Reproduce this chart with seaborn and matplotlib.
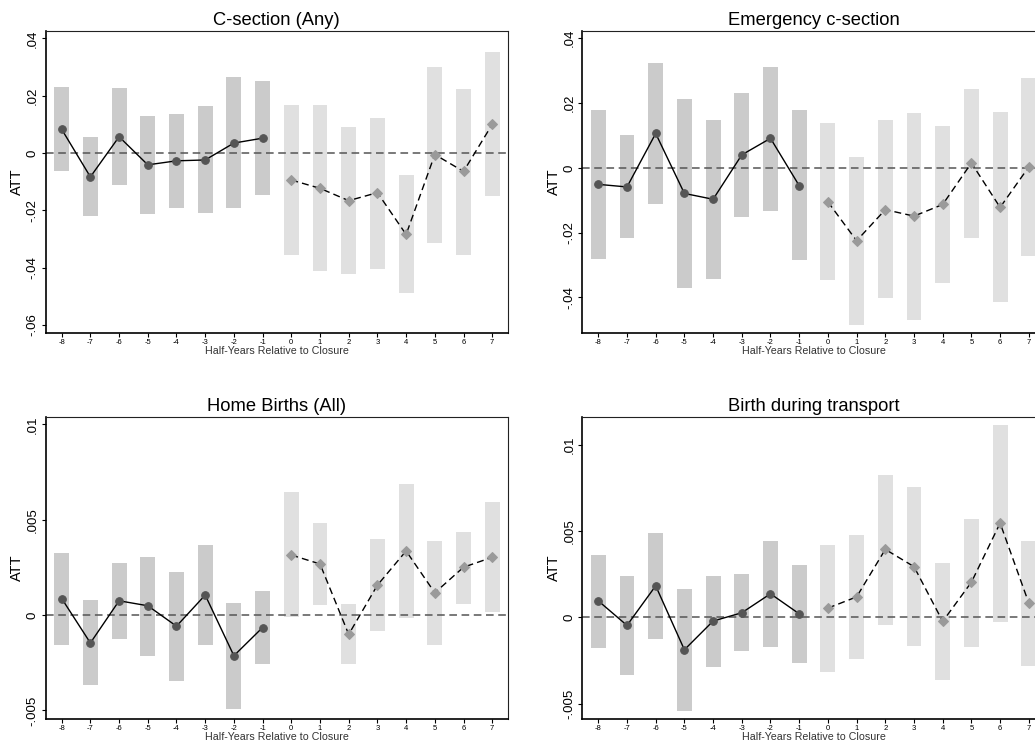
import numpy as np
import pandas as pd
import matplotlib
matplotlib.use("Agg")
import matplotlib.pyplot as plt
import seaborn as sns

sns.set_theme(style="white")
plt.rcParams['font.family'] = ['Liberation Sans', 'DejaVu Sans']
plt.rcParams['text.color'] = 'black'
plt.rcParams['axes.labelcolor'] = 'black'
plt.rcParams['xtick.color'] = 'black'
plt.rcParams['ytick.color'] = 'black'

periods = list(range(-8, 8))

titles = ["C-section (Any)", "Emergency c-section", "Home Births (All)", "Birth during transport"]

csec_att = [0.0083, -0.0083, 0.0057, -0.0041, -0.0027, -0.0024, 0.0035, 0.0052,
            -0.0094, -0.0123, -0.0166, -0.0138, -0.0284, -0.0005, -0.0064, 0.0100]
csec_hi = [0.0230, 0.0057, 0.0227, 0.0129, 0.0136, 0.0164, 0.0265, 0.0252,
           0.0167, 0.0167, 0.0091, 0.0122, -0.0077, 0.0300, 0.0223, 0.0352]
csec_lo = [-0.0063, -0.0220, -0.0112, -0.0213, -0.0192, -0.0209, -0.0192, -0.0147,
           -0.0356, -0.0412, -0.0422, -0.0405, -0.0488, -0.0314, -0.0356, -0.0150]

emer_att = [-0.0051, -0.0059, 0.0106, -0.0079, -0.0097, 0.0040, 0.0091, -0.0055,
            -0.0105, -0.0225, -0.0129, -0.0149, -0.0113, 0.0015, -0.0122, 0.0003]
emer_hi = [0.0178, 0.0101, 0.0323, 0.0212, 0.0147, 0.0230, 0.0311, 0.0178,
           0.0138, 0.0033, 0.0147, 0.0169, 0.0129, 0.0243, 0.0172, 0.0277]
emer_lo = [-0.0282, -0.0217, -0.0112, -0.0370, -0.0343, -0.0152, -0.0134, -0.0285,
           -0.0347, -0.0485, -0.0402, -0.0470, -0.0356, -0.0217, -0.0414, -0.0273]

home_att = [0.00087, -0.00146, 0.00075, 0.00049, -0.00058, 0.00105, -0.00213, -0.00065,
            0.00315, 0.00268, -0.00101, 0.00157, 0.00336, 0.00117, 0.00251, 0.00303]
home_hi = [0.00328, 0.00077, 0.00275, 0.00307, 0.00228, 0.00369, 0.00066, 0.00124,
           0.00646, 0.00484, 0.00056, 0.00401, 0.00688, 0.00390, 0.00437, 0.00594]
home_lo = [-0.00157, -0.00366, -0.00127, -0.00214, -0.00345, -0.00157, -0.00491, -0.00256,
           -0.00011, 0.00052, -0.00256, -0.00084, -0.00017, -0.00157, 0.00058, 0.00016]

trans_att = [0.00096, -0.00046, 0.00183, -0.00187, -0.00021, 0.00027, 0.00137, 0.00021,
             0.00054, 0.00119, 0.00394, 0.00294, -0.00023, 0.00204, 0.00546, 0.00083]
trans_hi = [0.00364, 0.00242, 0.00490, 0.00167, 0.00242, 0.00254, 0.00444, 0.00306,
            0.00421, 0.00479, 0.00825, 0.00756, 0.00317, 0.00571, 0.01114, 0.00444]
trans_lo = [-0.00179, -0.00335, -0.00127, -0.00542, -0.00289, -0.00196, -0.00173, -0.00265,
            -0.00317, -0.00242, -0.00046, -0.00167, -0.00364, -0.00173, -0.00029, -0.00283]

series = [(csec_att, csec_lo, csec_hi), (emer_att, emer_lo, emer_hi),
          (home_att, home_lo, home_hi), (trans_att, trans_lo, trans_hi)]

yticks = [[0.04, 0.02, 0.0, -0.02, -0.04, -0.06],
          [0.04, 0.02, 0.0, -0.02, -0.04],
          [0.01, 0.005, 0.0, -0.005],
          [0.01, 0.005, 0.0, -0.005]]
ytick_labels = [[".04", ".02", "0", "-.02", "-.04", "-.06"],
                [".04", ".02", "0", "-.02", "-.04"],
                [".01", ".005", "0", "-.005"],
                [".01", ".005", "0", "-.005"]]
ylims = [(-0.0626, 0.0427), (-0.0508, 0.0423), (-0.00542, 0.0104), (-0.00585, 0.01162)]

W, H = 1035, 751
fig = plt.figure(figsize=(W / 100, H / 100), dpi=100)
boxes = [(45.7, 30.7), (582.3, 30.7), (45.7, 416.7), (582.3, 416.7)]
aw, ah = 462.3, 301.8

for i, (lx, ty) in enumerate(boxes):
    ax = fig.add_axes([lx / W, 1 - (ty + ah) / H, aw / W, ah / H])
    att, lo, hi = series[i]
    df = pd.DataFrame({"t": periods, "att": att, "lo": lo, "hi": hi})
    df["post"] = df["t"] >= 0
    pre = df[~df["post"]]
    post = df[df["post"]]

    ax.bar(pre["t"], pre["hi"] - pre["lo"], bottom=pre["lo"], width=0.52,
           color="#cbcbcb", linewidth=0, zorder=1)
    ax.bar(post["t"], post["hi"] - post["lo"], bottom=post["lo"], width=0.52,
           color="#e0e0e0", linewidth=0, zorder=1)
    ax.axhline(0, color="#555555", linestyle=(0, (5, 3)), linewidth=1.1, zorder=2)

    sns.lineplot(data=pre, x="t", y="att", ax=ax, color="black", linewidth=1.0,
                 marker="o", markersize=5.5, markerfacecolor="#555555",
                 markeredgecolor="#555555", zorder=3)
    sns.lineplot(data=post, x="t", y="att", ax=ax, color="black", linewidth=1.0,
                 linestyle=(0, (5, 3)), marker="D", markersize=5,
                 markerfacecolor="#9a9a9a", markeredgecolor="#9a9a9a", zorder=3)

    ax.set_xlim(-8.557, 7.55)
    ax.set_ylim(*ylims[i])
    ax.set_xticks(periods)
    ax.set_xticklabels([str(p) for p in periods], fontsize=5.5)
    ax.set_yticks(yticks[i])
    ax.set_yticklabels(ytick_labels[i], fontsize=9.5, rotation=90, va="center")
    ax.tick_params(axis="both", which="both", direction="out", length=3, width=0.8,
                   color="black", left=True, bottom=True, pad=2)
    ax.tick_params(axis="x", pad=1.5)
    ax.set_xlabel("Half-Years Relative to Closure", fontsize=7.7, color="#333333", labelpad=0)
    ax.set_ylabel("ATT", fontsize=10.5, labelpad=2)
    ax.set_title(titles[i], fontsize=13.2, pad=4, color="black")
    for s in ["left", "bottom"]:
        ax.spines[s].set_color("black")
        ax.spines[s].set_linewidth(1.2)
    for s in ["top", "right"]:
        ax.spines[s].set_color("#222222")
        ax.spines[s].set_linewidth(0.8)
    ax.grid(False)

fig.savefig("out.png", dpi=100, facecolor="white")
